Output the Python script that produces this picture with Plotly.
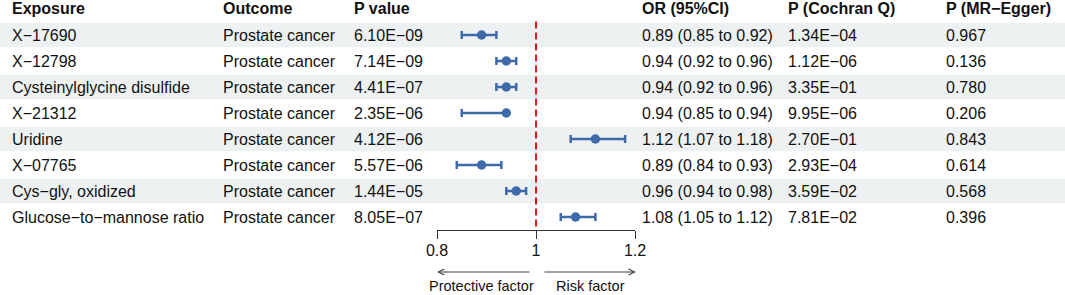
import plotly.graph_objects as go

# ---------------- data ----------------
exposures = ["X−17690", "X−12798", "Cysteinylglycine disulfide", "X−21312",
             "Uridine", "X−07765", "Cys−gly, oxidized", "Glucose−to−mannose ratio"]
outcomes = ["Prostate cancer"] * 8
p_values = ["6.10E−09", "7.14E−09", "4.41E−07", "2.35E−06",
            "4.12E−06", "5.57E−06", "1.44E−05", "8.05E−07"]
or_est = [0.89, 0.94, 0.94, 0.94, 1.12, 0.89, 0.96, 1.08]
or_low = [0.85, 0.92, 0.92, 0.85, 1.07, 0.84, 0.94, 1.05]
or_high = [0.92, 0.96, 0.96, 0.94, 1.18, 0.93, 0.98, 1.12]
p_cochran = ["1.34E−04", "1.12E−06", "3.35E−01", "9.95E−06",
             "2.70E−01", "2.93E−04", "3.59E−02", "7.81E−02"]
p_egger = ["0.967", "0.136", "0.780", "0.206", "0.843", "0.614", "0.568", "0.396"]
headers = ["Exposure", "Outcome", "P value", "OR (95%CI)", "P (Cochran Q)", "P (MR−Egger)"]
x_ticks = [0.8, 1, 1.2]
x_ticktext = ["0.8", "1", "1.2"]

# ---------------- layout constants ----------------
W, H = 1065, 295
FONT = "Liberation Sans, Arial, sans-serif"
BLUE = "#3f6aa9"
RED = "#e8161c"
BAND = "#eef1f1"
col_px = [13, 224, 355, 643, 789, 947]
TXT_PAD = 3
rows = list(range(len(exposures)))

or_text = [f"{o:.2f} ({l:.2f} to {h:.2f})" for o, l, h in zip(or_est, or_low, or_high)]
table_cols = [exposures, outcomes, p_values, or_text, p_cochran, p_egger]

fig = go.Figure()

fig.add_trace(go.Scatter(
    x=or_est, y=rows, mode="markers",
    marker=dict(color=BLUE, size=9.5),
    error_x=dict(type="data", symmetric=False,
                 array=[h - o for o, h in zip(or_est, or_high)],
                 arrayminus=[o - l for o, l in zip(or_est, or_low)],
                 color=BLUE, thickness=2.5, width=4),
    cliponaxis=False, showlegend=False, hoverinfo="skip"))

shapes = []
for i in rows:
    if i % 2 == 0:
        shapes.append(dict(type="rect", xref="paper", yref="y", x0=0, x1=1,
                           y0=i - 0.47, y1=i + 0.47, fillcolor=BAND,
                           line=dict(width=0), layer="below"))
shapes.append(dict(type="line", xref="x", yref="y", x0=1, x1=1, y0=-0.52, y1=7.45,
                   line=dict(color=RED, width=2, dash="7px,4px")))

annotations = []
for c, h in enumerate(headers):
    annotations.append(dict(xref="paper", yref="y", x=(col_px[c] - TXT_PAD) / W, y=-1.03,
                            text=f"<b>{h}</b>", showarrow=False, xanchor="left",
                            yanchor="middle", font=dict(family=FONT, size=16, color="#111")))
for c, vals in enumerate(table_cols):
    for i, v in enumerate(vals):
        annotations.append(dict(xref="paper", yref="y", x=(col_px[c] - TXT_PAD) / W, y=i,
                                text=v, showarrow=False, xanchor="left",
                                yanchor="middle", font=dict(family=FONT, size=16, color="#111")))

# direction arrows
arrow_y = 1 - 272 / H
annotations.append(dict(xref="x", yref="paper", x=0.8, y=arrow_y, axref="x", ayref="pixel",
                        ax=0.99, ay=0, text="", showarrow=True, arrowhead=5, arrowsize=1.2,
                        arrowwidth=1, arrowcolor="#444", standoff=0, startstandoff=0))
annotations.append(dict(xref="x", yref="paper", x=1.202, y=arrow_y, axref="x", ayref="pixel",
                        ax=1.014, ay=0, text="", showarrow=True, arrowhead=5, arrowsize=1.2,
                        arrowwidth=1, arrowcolor="#444", standoff=0, startstandoff=0))
lab_y = 1 - 286 / H
annotations.append(dict(xref="x", yref="paper", x=0.8895, y=lab_y, text="Protective factor",
                        showarrow=False, xanchor="center", yanchor="middle",
                        font=dict(family=FONT, size=14.5, color="#111")))
annotations.append(dict(xref="x", yref="paper", x=1.11, y=lab_y, text="Risk factor",
                        showarrow=False, xanchor="center", yanchor="middle",
                        font=dict(family=FONT, size=14.5, color="#111")))

fig.update_layout(
    width=W, height=H, autosize=False,
    margin=dict(l=0, r=0, t=0, b=0, pad=0, autoexpand=False),
    paper_bgcolor="white", plot_bgcolor="rgba(0,0,0,0)",
    shapes=shapes, annotations=annotations,
    xaxis=dict(domain=[437 / W, 635 / W], range=[0.8, 1.2], tickvals=x_ticks,
               ticktext=x_ticktext, showline=True, linecolor="#333", linewidth=1,
               ticks="outside", ticklen=8, tickcolor="#333", tickwidth=1,
               ticklabelstandoff=-2,
               tickfont=dict(family=FONT, size=16, color="#111"),
               showgrid=False, zeroline=False, fixedrange=True, automargin=False),
    yaxis=dict(domain=[1 - 230 / H, 1], range=[7.5, -1.346], visible=False,
               showgrid=False, zeroline=False, fixedrange=True),
)

fig.write_html("out.html", config={"displayModeBar": False, "staticPlot": True},
               post_script="document.body.style.margin='0';document.body.style.overflow='hidden';")
